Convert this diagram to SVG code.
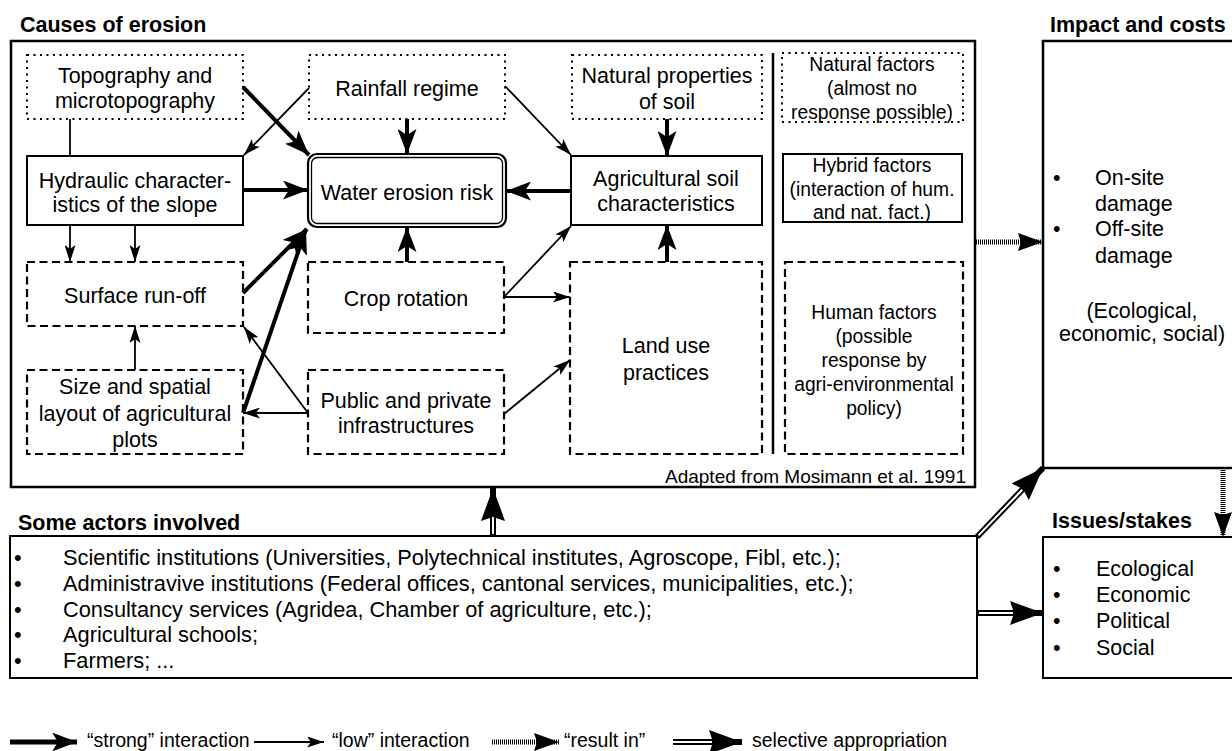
<svg xmlns="http://www.w3.org/2000/svg" width="1232" height="751" viewBox="0 0 1232 751">
<style>
text{font-family:"Liberation Sans",Arial,sans-serif;fill:#000}
.t{font-size:21.5px;text-anchor:middle}
.s{font-size:19.3px;text-anchor:middle}
.l{font-size:21.5px}
.a{font-size:21.8px}
.h{font-size:21.5px;font-weight:bold}
.g{font-size:19.5px}
.frame{fill:#fff;stroke:#000;stroke-width:2.5}
.solid{fill:#fff;stroke:#000;stroke-width:2}
.dot{fill:#fff;stroke:#000;stroke-width:2;stroke-dasharray:2 4.5}
.dash{fill:#fff;stroke:#000;stroke-width:2.2;stroke-dasharray:8 4.5}
.strong{fill:none;stroke:#000;stroke-width:4;marker-end:url(#ms)}
.low{fill:none;stroke:#000;stroke-width:1.8;marker-end:url(#ml)}
.plain{fill:none;stroke:#000;stroke-width:1.8}
.res{fill:none;stroke:#000;stroke-width:5;stroke-dasharray:1 1;marker-end:url(#mr)}
.dbl{fill:none;stroke:#000;stroke-width:6;marker-end:url(#md)}
.dblw{fill:none;stroke:#fff;stroke-width:2}
</style>
<defs>
<marker id="ms" markerUnits="userSpaceOnUse" markerWidth="25" markerHeight="19" viewBox="0 0 25 19" refX="25" refY="9.5" orient="auto"><path d="M0,0 L25,9.5 L0,19 L6,9.5 Z" fill="#000"/></marker>
<marker id="ml" markerUnits="userSpaceOnUse" markerWidth="17" markerHeight="11" viewBox="0 0 17 11" refX="17" refY="5.5" orient="auto"><path d="M0,0 L17,5.5 L0,11 L4,5.5 Z" fill="#000"/></marker>
<marker id="mr" markerUnits="userSpaceOnUse" markerWidth="25" markerHeight="18" viewBox="0 0 25 18" refX="25" refY="9" orient="auto"><path d="M0,0 L25,9 L0,18 L3,9 Z" fill="#000"/></marker>
<marker id="md" markerUnits="userSpaceOnUse" markerWidth="33" markerHeight="24" viewBox="0 0 33 24" refX="33" refY="12" orient="auto"><path d="M0,0 L33,12 L0,24 L4,12 Z" fill="#000"/></marker>
</defs>
<rect width="1232" height="751" fill="#fff"/>

<g id="causes">
<text class="h" x="20" y="32">Causes of erosion</text>
<rect class="frame" x="11" y="41" width="964" height="446"/>
<line x1="773" y1="53" x2="773" y2="454" stroke="#000" stroke-width="2.5"/>
<text x="966" y="483" font-size="19px" text-anchor="end">Adapted from Mosimann et al. 1991</text>
</g>

<g id="impact">
<text class="h" x="1050" y="32">Impact and costs</text>
<rect class="frame" x="1043" y="41" width="200" height="427"/>
<text class="l" x="1053" y="185">•</text><text class="l" x="1095" y="185">On-site</text>
<text class="l" x="1095" y="211">damage</text>
<text class="l" x="1053" y="236">•</text><text class="l" x="1095" y="236">Off-site</text>
<text class="l" x="1095" y="263">damage</text>
<text class="t" x="1142" y="318">(Ecological,</text>
<text class="t" x="1142" y="341">economic, social)</text>
</g>

<g id="actors">
<text class="h" x="18" y="530">Some actors involved</text>
<rect class="solid" x="10" y="536" width="967" height="142"/>
<text class="a" x="14" y="565">•</text><text class="a" x="63" y="565">Scientific institutions (Universities, Polytechnical institutes, Agroscope, Fibl, etc.);</text>
<text class="a" x="14" y="591">•</text><text class="a" x="63" y="591">Administravive institutions (Federal offices, cantonal services, municipalities, etc.);</text>
<text class="a" x="14" y="617">•</text><text class="a" x="63" y="617">Consultancy services (Agridea, Chamber of agriculture, etc.);</text>
<text class="a" x="14" y="642">•</text><text class="a" x="63" y="642">Agricultural schools;</text>
<text class="a" x="14" y="668">•</text><text class="a" x="63" y="668">Farmers; ...</text>
</g>

<g id="issues">
<text class="h" x="1052" y="528">Issues/stakes</text>
<rect class="solid" x="1043" y="537" width="200" height="141"/>
<text class="l" x="1053" y="576">•</text><text class="l" x="1096" y="576">Ecological</text>
<text class="l" x="1053" y="602">•</text><text class="l" x="1096" y="602">Economic</text>
<text class="l" x="1053" y="628">•</text><text class="l" x="1096" y="628">Political</text>
<text class="l" x="1053" y="655">•</text><text class="l" x="1096" y="655">Social</text>
</g>

<g id="topography"><rect class="dot" x="27" y="55" width="216" height="64"/>
<text class="t" x="135" y="83">Topography and</text><text class="t" x="135" y="108">microtopography</text></g>
<g id="rainfall"><rect class="dot" x="309" y="55" width="196" height="64"/>
<text class="t" x="407" y="96">Rainfall regime</text></g>
<g id="natprop"><rect class="dot" x="572" y="55" width="190" height="64"/>
<text class="t" x="667" y="83">Natural properties</text><text class="t" x="667" y="109">of soil</text></g>
<g id="natfactors"><rect class="dot" x="782" y="53" width="181" height="69"/>
<text class="s" x="872" y="71">Natural factors</text><text class="s" x="872" y="95">(almost no</text><text class="s" x="872" y="119">response possible)</text></g>
<g id="hybrid"><rect class="solid" x="783" y="154" width="179" height="68"/>
<text class="s" x="872" y="172">Hybrid factors</text><text class="s" x="872" y="196">(interaction of hum.</text><text class="s" x="872" y="219">and nat. fact.)</text></g>
<g id="hydraulic"><rect class="solid" x="27" y="156" width="216" height="69"/>
<text class="t" x="135" y="188">Hydraulic character-</text><text class="t" x="135" y="212">istics of the slope</text></g>
<g id="water"><rect x="308" y="154" width="198" height="73" rx="9" fill="#fff" stroke="#000" stroke-width="2.2"/>
<rect x="311.5" y="157.5" width="191" height="66" rx="6" fill="none" stroke="#000" stroke-width="1.3"/>
<text class="t" x="407" y="200">Water erosion risk</text></g>
<g id="agsoil"><rect class="solid" x="571" y="156" width="191" height="69"/>
<text class="t" x="666" y="186">Agricultural soil</text><text class="t" x="666" y="211">characteristics</text></g>
<g id="runoff"><rect class="dash" x="27" y="262" width="216" height="64"/>
<text class="t" x="135" y="303">Surface run-off</text></g>
<g id="crop"><rect class="dash" x="308" y="262" width="196" height="71"/>
<text class="t" x="406" y="306">Crop rotation</text></g>
<g id="landuse"><rect class="dash" x="570" y="262" width="192" height="192"/>
<text class="t" x="666" y="353">Land use</text><text class="t" x="666" y="380">practices</text></g>
<g id="human"><rect class="dash" x="785" y="262" width="178" height="192"/>
<text class="s" x="874" y="319">Human factors</text><text class="s" x="874" y="343">(possible</text><text class="s" x="874" y="367">response by</text><text class="s" x="874" y="391">agri-environmental</text><text class="s" x="874" y="415">policy)</text></g>
<g id="size"><rect class="dash" x="27" y="370" width="216" height="84"/>
<text class="t" x="135" y="394">Size and spatial</text><text class="t" x="135" y="421">layout of agricultural</text><text class="t" x="135" y="447">plots</text></g>
<g id="public"><rect class="dash" x="308" y="370" width="196" height="84"/>
<text class="t" x="406" y="408">Public and private</text><text class="t" x="406" y="433">infrastructures</text></g>

<g id="connectors">
<path class="strong" d="M243,87 L309,155"/>
<path class="low" d="M309,88 L244,155"/>
<path class="plain" d="M70,119 L70,156"/>
<path class="strong" d="M407,119 L407,154"/>
<path class="low" d="M505,86 L571,155"/>
<path class="strong" d="M667,119 L667,156"/>
<path class="strong" d="M243,190 L308,190"/>
<path class="strong" d="M571,191 L506,191"/>
<path class="low" d="M70,225 L70,262"/>
<path class="low" d="M135,225 L135,262"/>
<path class="strong" d="M243,293 L307,229"/>
<path class="strong" d="M243,413 L306,229"/>
<path class="low" d="M308,413 L244,327"/>
<path class="low" d="M308,413 L243,413"/>
<path class="low" d="M135,370 L135,326"/>
<path class="strong" d="M407,262 L407,227"/>
<path class="low" d="M504,297 L571,226"/>
<path class="low" d="M504,297 L570,297"/>
<path class="low" d="M504,414 L570,360"/>
<path class="strong" d="M667,262 L667,225"/>
<path class="res" d="M976,242 L1043,242"/>
<path class="res" d="M1223,468 L1223,537"/>
<path class="dbl" d="M493,536 L493,488"/>
<path class="dblw" d="M493,534 L493,517"/>
<path class="dbl" d="M977,537 L1043,468"/>
<path class="dblw" d="M978.5,535.4 L1022.3,489.7"/>
<path class="dbl" d="M977,613 L1043,613"/>
<path class="dblw" d="M979,613 L1013,613"/>
</g>

<g id="legend">
<path class="strong" d="M10,742 L77,742" style="stroke-width:5"/>
<text class="g" x="87" y="747">“strong” interaction</text>
<path class="low" d="M254,742 L324,742"/>
<text class="g" x="332" y="747">“low” interaction</text>
<path class="res" d="M492,742 L559,742"/>
<text class="g" x="564" y="747">“result in”</text>
<path class="dbl" d="M673,742 L742,742"/>
<path class="dblw" d="M673,742 L712,742"/>
<text class="g" x="752" y="747">selective appropriation</text>
</g>
</svg>
